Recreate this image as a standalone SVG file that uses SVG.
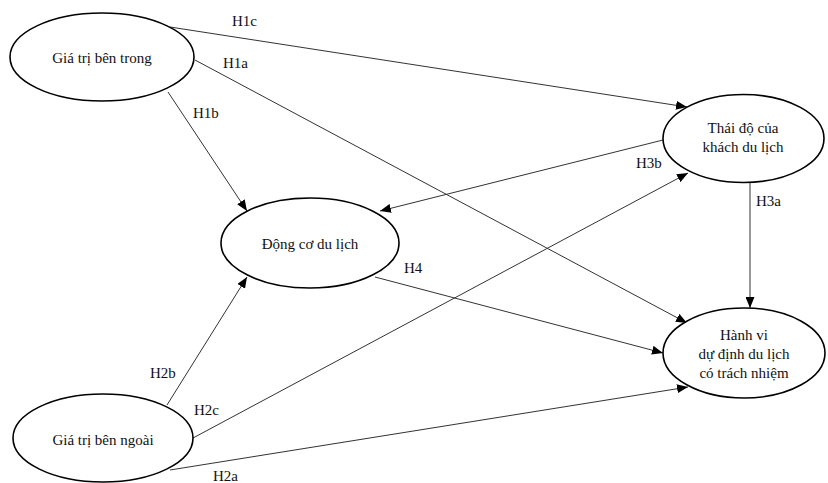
<svg xmlns="http://www.w3.org/2000/svg" width="828" height="483" viewBox="0 0 828 483">
<defs>
<marker id="arr" markerWidth="11" markerHeight="9" refX="11" refY="4.5" orient="auto" markerUnits="userSpaceOnUse">
<path d="M0,0 L11,4.5 L0,9 Z" fill="#000"/>
</marker>
<style>
.node ellipse{fill:#fff;stroke:#000;stroke-width:1.6}
.node text,.lbl{font-family:"Liberation Serif","Times New Roman",serif;font-size:15px;fill:#111;text-anchor:middle}
.lbl{text-anchor:start}
.conn line{stroke:#333;stroke-width:1;marker-end:url(#arr)}
</style>
</defs>
<rect width="828" height="483" fill="#fff"/>
<g id="connectors" class="conn">
<line x1="170" y1="27" x2="687" y2="107"/>
<line x1="195" y1="60" x2="687" y2="323"/>
<line x1="168" y1="92" x2="247" y2="211"/>
<line x1="663" y1="140" x2="380" y2="211"/>
<line x1="193" y1="438" x2="688" y2="173"/>
<line x1="167" y1="405" x2="247" y2="277"/>
<line x1="375" y1="277" x2="663" y2="353"/>
<line x1="170" y1="470" x2="688" y2="387"/>
<line x1="750" y1="183" x2="750" y2="308"/>
</g>
<g id="labels">
<text class="lbl" x="232" y="26">H1c</text>
<text class="lbl" x="223" y="68">H1a</text>
<text class="lbl" x="193" y="118">H1b</text>
<text class="lbl" x="636" y="168">H3b</text>
<text class="lbl" x="756" y="206">H3a</text>
<text class="lbl" x="404" y="273">H4</text>
<text class="lbl" x="150" y="378">H2b</text>
<text class="lbl" x="194" y="415">H2c</text>
<text class="lbl" x="213" y="481">H2a</text>
</g>
<g id="n_inner" class="node">
<ellipse cx="102" cy="57" rx="92" ry="44"/>
<text x="102" y="63">Giá trị bên trong</text>
</g>
<g id="n_attitude" class="node">
<ellipse cx="743.5" cy="138.5" rx="80.5" ry="44"/>
<text x="743" y="133">Thái độ của</text>
<text x="743" y="152">khách du lịch</text>
</g>
<g id="n_motive" class="node">
<ellipse cx="310" cy="243" rx="89" ry="45"/>
<text x="310" y="249">Động cơ du lịch</text>
</g>
<g id="n_behavior" class="node">
<ellipse cx="744" cy="353" rx="81" ry="45"/>
<text x="744" y="340">Hành vi</text>
<text x="744" y="359">dự định du lịch</text>
<text x="744" y="378">có trách nhiệm</text>
</g>
<g id="n_outer" class="node">
<ellipse cx="103" cy="438" rx="90" ry="44"/>
<text x="103" y="445">Giá trị bên ngoài</text>
</g>
</svg>
